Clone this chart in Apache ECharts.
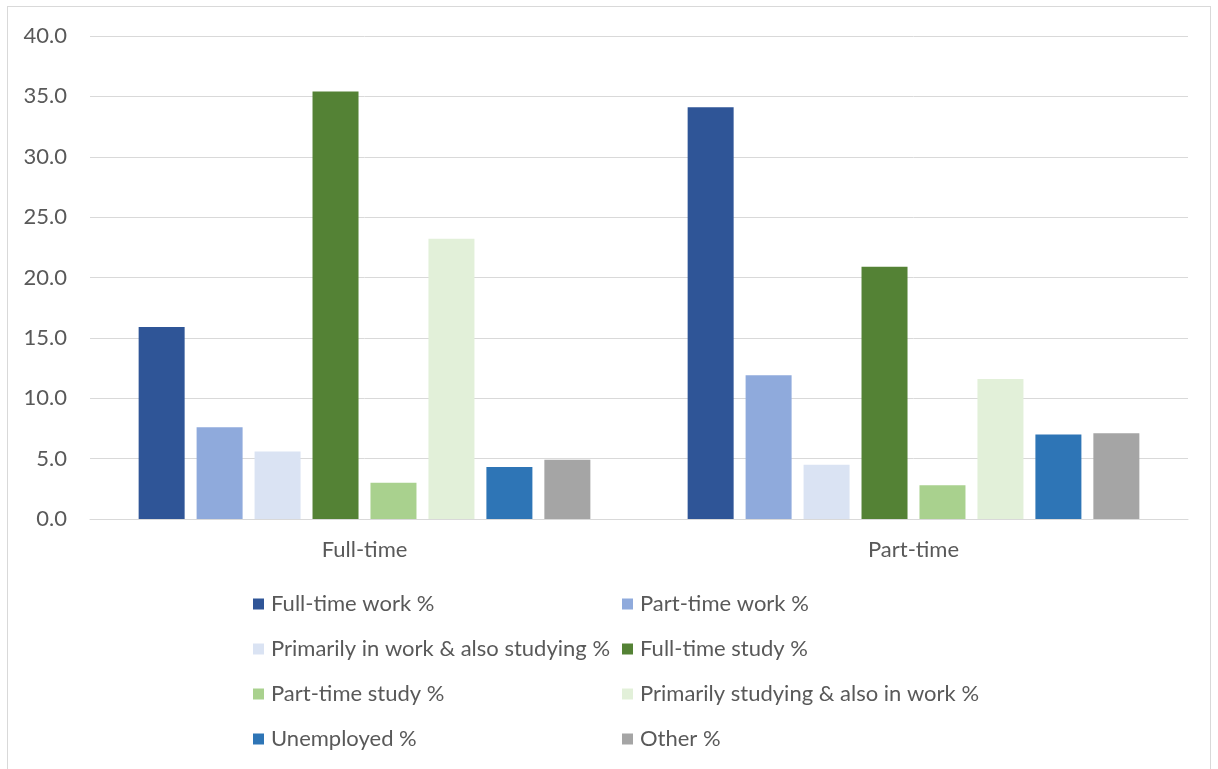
<!DOCTYPE html>
<html>
<head>
<meta charset="utf-8">
<script src="https://cdn.jsdelivr.net/npm/echarts@6/dist/echarts.min.js"></script>
<style>
  html, body { margin: 0; padding: 0; background: #fff; }
  #frame { position: absolute; left: 7px; top: 6px; width: 1204px; height: 780px; border: 1px solid #d9d9d9; box-sizing: border-box; }
  #chart { position: absolute; left: 0; top: 0; width: 1218px; height: 769px; }
</style>
</head>
<body>
<div id="frame"></div>
<div id="chart"></div>
<script>
// Study/work status by enrolment mode (%)
const categories = ['Full-time', 'Part-time'];
const seriesNames = [
  'Full-time work %',
  'Part-time work %',
  'Primarily in work & also studying %',
  'Full-time study %',
  'Part-time study %',
  'Primarily studying & also in work %',
  'Unemployed %',
  'Other %'
];
const fullTimeWork = [15.9, 34.1];
const partTimeWork = [7.6, 11.9];
const workAndStudying = [5.6, 4.5];
const fullTimeStudy = [35.4, 20.9];
const partTimeStudy = [3.0, 2.8];
const studyingAndWork = [23.2, 11.6];
const unemployed = [4.3, 7.0];
const other = [4.9, 7.1];
const colors = ['#2F5597', '#8FAADC', '#DAE3F3', '#548235', '#A9D18E', '#E2F0D9', '#2E75B6', '#A5A5A5'];

const values = [fullTimeWork, partTimeWork, workAndStudying, fullTimeStudy,
                partTimeStudy, studyingAndWork, unemployed, other];

const font = 'Lato, "Open Sans", sans-serif';
const textColor = '#595959';
const fontSize = 22;

const chart = echarts.init(document.getElementById('chart'), null, { renderer: 'canvas' });

const legendBase = {
  orient: 'vertical',
  top: 588,
  itemGap: 23,
  itemWidth: 11,
  itemHeight: 11,
  icon: 'rect',
  selectedMode: false,
  textStyle: { fontFamily: font, fontSize: fontSize, color: textColor, padding: [0, 0, 0, 2] }
};

chart.setOption({
  animation: false,
  color: colors,
  grid: { left: 90, right: 30, top: 36, bottom: 250, containLabel: false },
  legend: [
    Object.assign({}, legendBase, { left: 248, data: [seriesNames[0], seriesNames[2], seriesNames[4], seriesNames[6]] }),
    Object.assign({}, legendBase, { left: 617, data: [seriesNames[1], seriesNames[3], seriesNames[5], seriesNames[7]] })
  ],
  xAxis: {
    type: 'category',
    data: categories,
    axisLine: { lineStyle: { color: '#d9d9d9', width: 1 } },
    axisTick: { show: false },
    axisLabel: { fontFamily: font, fontSize: fontSize, color: textColor, margin: 20 }
  },
  yAxis: {
    type: 'value',
    min: 0,
    max: 40,
    interval: 5,
    axisLine: { show: false },
    axisTick: { show: false },
    splitLine: { lineStyle: { color: '#d9d9d9', width: 1 } },
    axisLabel: {
      fontFamily: font, fontSize: fontSize, color: textColor, margin: 23,
      formatter: v => v.toFixed(1)
    }
  },
  series: seriesNames.map((name, i) => ({
    name: name,
    type: 'bar',
    data: values[i],
    barWidth: 46,
    barGap: '26%',
    itemStyle: { color: colors[i] }
  }))
});
</script>
</body>
</html>
